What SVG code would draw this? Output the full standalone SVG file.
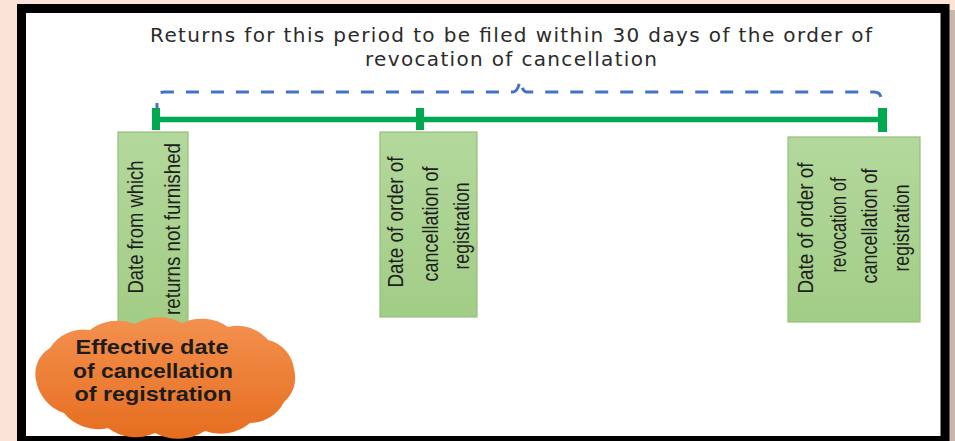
<svg xmlns="http://www.w3.org/2000/svg" width="955" height="441" viewBox="0 0 955 441">
<style>
.title{font-family:"DejaVu Sans","Noto Sans",sans-serif;font-size:20px;fill:#2b2b2b;text-anchor:middle}
.box{fill:url(#gbox);stroke:#94bf7c;stroke-width:1.2}
.bt{font-family:"Liberation Sans","Arial",sans-serif;font-size:22px;fill:#1e1e1e;text-anchor:middle}
.ct{font-family:"Liberation Sans","Arial",sans-serif;font-size:21px;font-weight:bold;fill:#1c1c1c;text-anchor:middle}
.tick{fill:#00a84f}
</style>
<defs>
<linearGradient id="gbox" x1="0" y1="0" x2="0" y2="1">
<stop offset="0" stop-color="#b3d89c"/>
<stop offset="1" stop-color="#a2cd86"/>
</linearGradient>
<linearGradient id="gcloud" x1="0" y1="0" x2="0" y2="1">
<stop offset="0" stop-color="#f3914f"/>
<stop offset="1" stop-color="#e66d1f"/>
</linearGradient>
</defs>
<rect x="0" y="0" width="955" height="441" fill="#fbe3d7"/>
<rect x="948" y="10" width="7" height="431" fill="#c9b7ad"/>
<rect x="21.5" y="8.5" width="923.5" height="432" fill="#ffffff" stroke="#000000" stroke-width="9"/>
<g id="title">
<text class="title" x="511" y="42" textLength="722">Returns for this period to be filed within 30 days of the order of</text>
<text class="title" x="511" y="66" textLength="292">revocation of cancellation</text>
</g>
<g id="connectors">
<path d="M157,108 L157,99 Q157,92 164,92 L513,92 Q518,92 520,80 Q522,92 527,92 L874,92 Q881,92 881,99 L881,108" fill="none" stroke="#4472c4" stroke-width="3" stroke-dasharray="13 12" stroke-dashoffset="8"/>
<line x1="156" y1="119.5" x2="883" y2="119.5" stroke="#00a84f" stroke-width="5.5"/>
<rect class="tick" x="152" y="108" width="8" height="22"/>
<rect class="tick" x="416" y="108" width="8" height="22"/>
<rect class="tick" x="878" y="108" width="9" height="24"/>
</g>
<g id="node-returns-not-furnished">
<rect class="box" x="118" y="132" width="70" height="192"/>
<text class="bt" transform="translate(143,227) rotate(-90)" textLength="133" lengthAdjust="spacingAndGlyphs">Date from which</text>
<text class="bt" transform="translate(180,229) rotate(-90)" textLength="172" lengthAdjust="spacingAndGlyphs">returns not furnished</text>
</g>
<g id="node-order-cancellation">
<rect class="box" x="380" y="132" width="97" height="185"/>
<text class="bt" transform="translate(403,222) rotate(-90)" textLength="131" lengthAdjust="spacingAndGlyphs">Date of order of</text>
<text class="bt" transform="translate(438,224) rotate(-90)" textLength="115" lengthAdjust="spacingAndGlyphs">cancellation of</text>
<text class="bt" transform="translate(469,226) rotate(-90)" textLength="87" lengthAdjust="spacingAndGlyphs">registration</text>
</g>
<g id="node-order-revocation">
<rect class="box" x="788" y="137" width="132" height="185"/>
<text class="bt" transform="translate(813,228) rotate(-90)" textLength="131" lengthAdjust="spacingAndGlyphs">Date of order of</text>
<text class="bt" transform="translate(846,225) rotate(-90)" textLength="95" lengthAdjust="spacingAndGlyphs">revocation of</text>
<text class="bt" transform="translate(877,226) rotate(-90)" textLength="115" lengthAdjust="spacingAndGlyphs">cancellation of</text>
<text class="bt" transform="translate(909,228) rotate(-90)" textLength="87" lengthAdjust="spacingAndGlyphs">registration</text>
</g>
<g id="node-effective-date">
<path d="M36,380 A30,30 0 0 1 50,348 A40,40 0 0 1 90,330 A46,46 0 0 1 135,324 A48,48 0 0 1 182,323 A46,46 0 0 1 228,327 A40,40 0 0 1 268,340 A34,34 0 0 1 294,369 A32,32 0 0 1 284,402 A38,38 0 0 1 250,423 A46,46 0 0 1 205,431 A50,50 0 0 1 155,433 A46,46 0 0 1 108,428 A44,44 0 0 1 64,413 A42,42 0 0 1 36,380 Z" fill="url(#gcloud)"/>
<text class="ct" x="152" y="354" textLength="153" lengthAdjust="spacingAndGlyphs">Effective date</text>
<text class="ct" x="153" y="378" textLength="160" lengthAdjust="spacingAndGlyphs">of cancellation</text>
<text class="ct" x="153" y="401" textLength="157" lengthAdjust="spacingAndGlyphs">of registration</text>
</g>
</svg>
